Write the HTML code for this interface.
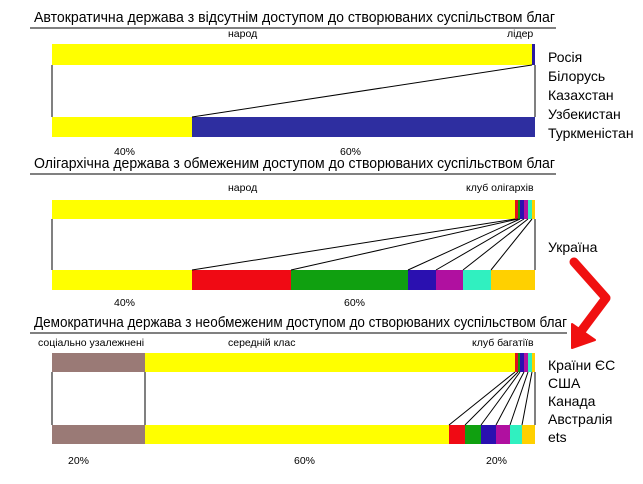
<!DOCTYPE html>
<html><head><meta charset="utf-8"><style>
html,body{margin:0;padding:0;background:#fff}
svg{display:block}
text{font-family:"Liberation Sans",sans-serif;fill:#000}
.t{font-size:15px}
.s{font-size:10.5px}
.c{font-size:14px}
</style></head><body>
<svg width="643" height="484" viewBox="0 0 643 484">
<!-- Panel 1 -->
<text class="t" x="34" y="22" textLength="521" lengthAdjust="spacingAndGlyphs">Автократична держава з відсутнім доступом до створюваних суспільством благ</text>
<line x1="30" y1="28" x2="556" y2="28" stroke="#000" stroke-width="1"/>
<text class="s" x="228" y="37">народ</text>
<text class="s" x="507" y="37">лідер</text>
<rect x="52" y="44" width="483" height="21" fill="#ffff00"/>
<rect x="532" y="44" width="3" height="21" fill="#2a1aa0"/>
<rect x="52" y="117" width="140" height="20" fill="#ffff00"/>
<rect x="192" y="117" width="343" height="20" fill="#2e2ea0"/>
<g stroke="#000" stroke-width="1">
<line x1="52" y1="65" x2="52" y2="117"/>
<line x1="532" y1="65" x2="192" y2="117"/>
<line x1="535" y1="65" x2="535" y2="117"/>
</g>
<text class="s" x="114" y="155">40%</text>
<text class="s" x="340" y="155">60%</text>
<text class="c" x="548" y="62">Росія</text>
<text class="c" x="548" y="81">Білорусь</text>
<text class="c" x="548" y="100">Казахстан</text>
<text class="c" x="548" y="119">Узбекистан</text>
<text class="c" x="548" y="138">Туркменістан</text>
<!-- Panel 2 -->
<text class="t" x="34" y="168" textLength="521" lengthAdjust="spacingAndGlyphs">Олігархічна держава з обмеженим доступом до створюваних суспільством благ</text>
<line x1="30" y1="174" x2="556" y2="174" stroke="#000"/>
<text class="s" x="228" y="191">народ</text>
<text class="s" x="466" y="191">клуб олігархів</text>
<rect x="52" y="200" width="483" height="19" fill="#ffff00"/>
<rect x="515" y="200" width="3" height="19" fill="#e0101c"/>
<rect x="518" y="200" width="2" height="19" fill="#109a10"/>
<rect x="520" y="200" width="4" height="19" fill="#2a10b0"/>
<rect x="524" y="200" width="4" height="19" fill="#b010a0"/>
<rect x="528" y="200" width="4" height="19" fill="#30f0c0"/>
<rect x="532" y="200" width="3" height="19" fill="#ffd000"/>
<rect x="52" y="270" width="140" height="20" fill="#ffff00"/>
<rect x="192" y="270" width="99" height="20" fill="#f00a14"/>
<rect x="291" y="270" width="117" height="20" fill="#10a010"/>
<rect x="408" y="270" width="28" height="20" fill="#2a10b0"/>
<rect x="436" y="270" width="27" height="20" fill="#b010a0"/>
<rect x="463" y="270" width="28" height="20" fill="#30f0c0"/>
<rect x="491" y="270" width="44" height="20" fill="#ffd000"/>
<g stroke="#000" stroke-width="1">
<line x1="52" y1="219" x2="52" y2="270"/>
<line x1="515" y1="219" x2="192" y2="270"/>
<line x1="518" y1="219" x2="291" y2="270"/>
<line x1="520" y1="219" x2="408" y2="270"/>
<line x1="524" y1="219" x2="436" y2="270"/>
<line x1="528" y1="219" x2="463" y2="270"/>
<line x1="532" y1="219" x2="491" y2="270"/>
<line x1="535" y1="219" x2="535" y2="270"/>
</g>
<text class="s" x="114" y="306">40%</text>
<text class="s" x="344" y="306">60%</text>
<text class="c" x="548" y="252">Україна</text>
<!-- Panel 3 -->
<text class="t" x="34" y="327" textLength="533" lengthAdjust="spacingAndGlyphs">Демократична держава з необмеженим доступом до створюваних суспільством благ</text>
<line x1="30" y1="333" x2="567" y2="333" stroke="#000"/>
<!-- arrow -->
<polyline points="574,262 606,298 582,330" fill="none" stroke="#f01010" stroke-width="9" stroke-linecap="round" stroke-linejoin="round"/>
<polygon points="572,348 572,324 595,340" fill="#f01010" stroke="#f01010" stroke-width="2" stroke-linejoin="round"/>
<text class="s" x="38" y="346">соціально узалежнені</text>
<text class="s" x="228" y="346">середній клас</text>
<text class="s" x="472" y="346">клуб багатіїв</text>
<rect x="52" y="353" width="93" height="19" fill="#9a7a76"/>
<rect x="145" y="353" width="390" height="19" fill="#ffff00"/>
<rect x="515" y="353" width="3" height="19" fill="#e0101c"/>
<rect x="518" y="353" width="2" height="19" fill="#109a10"/>
<rect x="520" y="353" width="4" height="19" fill="#2a10b0"/>
<rect x="524" y="353" width="4" height="19" fill="#b010a0"/>
<rect x="528" y="353" width="4" height="19" fill="#30f0c0"/>
<rect x="532" y="353" width="3" height="19" fill="#ffd000"/>
<rect x="52" y="425" width="93" height="19" fill="#9a7a76"/>
<rect x="145" y="425" width="304" height="19" fill="#ffff00"/>
<rect x="449" y="425" width="16" height="19" fill="#f00a14"/>
<rect x="465" y="425" width="16" height="19" fill="#10a010"/>
<rect x="481" y="425" width="15" height="19" fill="#2a10b0"/>
<rect x="496" y="425" width="14" height="19" fill="#b010a0"/>
<rect x="510" y="425" width="12" height="19" fill="#30f0c0"/>
<rect x="522" y="425" width="13" height="19" fill="#ffd000"/>
<g stroke="#000" stroke-width="1">
<line x1="52" y1="372" x2="52" y2="425"/>
<line x1="145" y1="372" x2="145" y2="425"/>
<line x1="515" y1="372" x2="449" y2="425"/>
<line x1="518" y1="372" x2="465" y2="425"/>
<line x1="520" y1="372" x2="481" y2="425"/>
<line x1="524" y1="372" x2="496" y2="425"/>
<line x1="528" y1="372" x2="510" y2="425"/>
<line x1="532" y1="372" x2="522" y2="425"/>
<line x1="535" y1="372" x2="535" y2="425"/>
</g>
<text class="s" x="68" y="464">20%</text>
<text class="s" x="294" y="464">60%</text>
<text class="s" x="486" y="464">20%</text>
<text class="c" x="548" y="370">Країни ЄС</text>
<text class="c" x="548" y="388">США</text>
<text class="c" x="548" y="406">Канада</text>
<text class="c" x="548" y="424">Австралія</text>
<text class="c" x="548" y="442">ets</text>
</svg>
</body></html>
